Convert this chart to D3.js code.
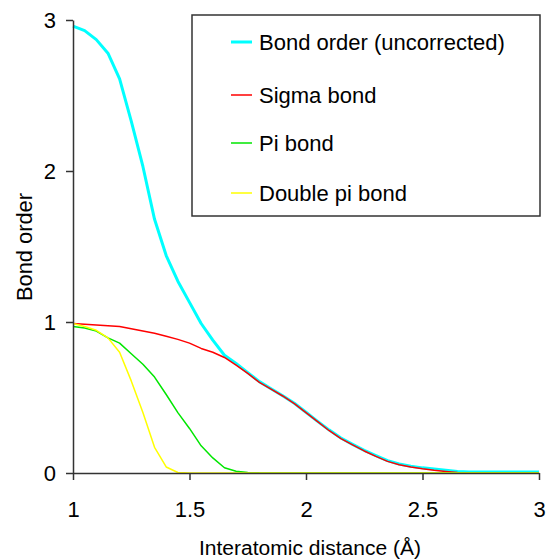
<!DOCTYPE html>
<html>
<head>
<meta charset="utf-8">
<script src="https://cdn.jsdelivr.net/npm/d3@7"></script>
<style>
  html, body { margin: 0; padding: 0; background: #fff; }
  svg { display: block; font-family: "Liberation Sans", Arial, sans-serif; }
</style>
</head>
<body>
<svg id="chart" width="546" height="560"></svg>
<script>
// Interatomic distance (Å)
const distance = [1.00, 1.05, 1.10, 1.15, 1.20, 1.25, 1.30, 1.35, 1.40, 1.45,
                  1.50, 1.55, 1.60, 1.65, 1.70, 1.75, 1.80, 1.85, 1.90, 1.95,
                  2.00, 2.05, 2.10, 2.15, 2.20, 2.25, 2.30, 2.35, 2.40, 2.45,
                  2.50, 2.55, 2.60, 2.65, 2.70, 2.75, 2.80, 2.85, 2.90, 2.95, 3.00];

const bondOrderUncorrected = [2.96, 2.93, 2.87, 2.78, 2.61, 2.33, 2.03, 1.68, 1.44, 1.27,
                              1.13, 0.99, 0.88, 0.78, 0.725, 0.665, 0.605, 0.558, 0.512, 0.462,
                              0.402, 0.342, 0.284, 0.232, 0.19, 0.15, 0.115, 0.082, 0.06, 0.045,
                              0.034, 0.026, 0.018, 0.01, 0.007, 0.006, 0.006, 0.006, 0.006, 0.006, 0.006];

const sigmaBond = [0.99, 0.985, 0.98, 0.975, 0.97, 0.955, 0.94, 0.925, 0.905, 0.885,
                   0.86, 0.825, 0.80, 0.765, 0.715, 0.66, 0.60, 0.555, 0.51, 0.46,
                   0.40, 0.34, 0.28, 0.228, 0.186, 0.146, 0.11, 0.077, 0.055, 0.04,
                   0.028, 0.018, 0.01, 0.003, 0, 0, 0, 0, 0, 0, 0];

const piBond = [0.97, 0.96, 0.94, 0.895, 0.86, 0.79, 0.72, 0.635, 0.52, 0.40,
                0.295, 0.18, 0.10, 0.035, 0.012, 0.004, 0.001, 0, 0, 0,
                0, 0, 0, 0, 0, 0, 0, 0, 0, 0,
                0, 0, 0, 0, 0, 0, 0, 0, 0, 0, 0];

const doublePiBond = [0.99, 0.97, 0.945, 0.895, 0.80, 0.61, 0.40, 0.17, 0.04, 0.003,
                      0, 0, 0, 0, 0, 0, 0, 0, 0, 0,
                      0, 0, 0, 0, 0, 0, 0, 0, 0, 0,
                      0, 0, 0, 0, 0, 0, 0, 0, 0, 0, 0];

const seriesNames = ["Bond order (uncorrected)", "Sigma bond", "Pi bond", "Double pi bond"];
const xTicks = [1, 1.5, 2, 2.5, 3];
const yTicks = [0, 1, 2, 3];

const series = [
  { name: seriesNames[0], values: bondOrderUncorrected, color: "#00ffff", width: 3 },
  { name: seriesNames[1], values: sigmaBond,            color: "#ff0000", width: 1.5 },
  { name: seriesNames[2], values: piBond,               color: "#00e600", width: 1.5 },
  { name: seriesNames[3], values: doublePiBond,         color: "#ffff00", width: 1.5 }
];

const svg = d3.select("#chart");
const plot = { left: 73, right: 539, top: 20, bottom: 473 };

const x = d3.scaleLinear().domain([1, 3]).range([plot.left, plot.right]);
const y = d3.scaleLinear().domain([0, 3]).range([plot.bottom, plot.top]);

// Curves
const line = d3.line()
  .x((d, i) => x(distance[i]))
  .y(d => y(d));

svg.append("g").selectAll("path")
  .data(series)
  .join("path")
  .attr("fill", "none")
  .attr("stroke", d => d.color)
  .attr("stroke-width", d => d.width)
  .attr("stroke-linejoin", "round")
  .attr("d", d => line(d.values));

// Axes
const axisColor = "#333";
const xAxis = svg.append("g")
  .attr("transform", `translate(0,${plot.bottom})`)
  .call(d3.axisBottom(x).tickValues(xTicks).tickFormat(d3.format("")).tickSize(7).tickSizeOuter(0));
const yAxis = svg.append("g")
  .attr("transform", `translate(${plot.left},0)`)
  .call(d3.axisLeft(y).tickValues(yTicks).tickFormat(d3.format("d")).tickSize(7).tickSizeOuter(0));

[xAxis, yAxis].forEach(g => {
  g.select(".domain").attr("stroke", axisColor).attr("stroke-width", 1.5);
  g.selectAll(".tick line").attr("stroke", axisColor).attr("stroke-width", 1.5);
  g.selectAll(".tick text")
    .attr("fill", "#000")
    .style("font-family", "'Liberation Sans', Arial, sans-serif")
    .style("font-size", "22px");
});
xAxis.selectAll(".tick text").attr("y", 28).attr("dy", "0.71em");
yAxis.selectAll(".tick text").attr("x", -17).attr("dy", "0.36em");

// Axis titles
svg.append("text")
  .attr("x", 310).attr("y", 555)
  .attr("text-anchor", "middle")
  .style("font-size", "20px")
  .attr("textLength", 222).attr("lengthAdjust", "spacingAndGlyphs")
  .text("Interatomic distance (Å)");

svg.append("text")
  .attr("transform", "translate(32,247) rotate(-90)")
  .attr("text-anchor", "middle")
  .style("font-size", "22px")
  .attr("textLength", 108).attr("lengthAdjust", "spacingAndGlyphs")
  .text("Bond order");

// Legend
const legend = svg.append("g");
legend.append("rect")
  .attr("x", 192).attr("y", 15).attr("width", 348).attr("height", 201)
  .attr("fill", "#fff").attr("stroke", axisColor).attr("stroke-width", 1.5);

const rowY = [42, 95, 143, 193];
const rows = legend.selectAll("g.row")
  .data(series)
  .join("g")
  .attr("class", "row")
  .attr("transform", (d, i) => `translate(0,${rowY[i]})`);
rows.append("line")
  .attr("x1", 231).attr("x2", 252)
  .attr("stroke", d => d.color)
  .attr("stroke-width", d => d.width);
rows.append("text")
  .attr("x", 259).attr("dy", "0.36em")
  .style("font-size", "22px")
  .text(d => d.name);
</script>
</body>
</html>
